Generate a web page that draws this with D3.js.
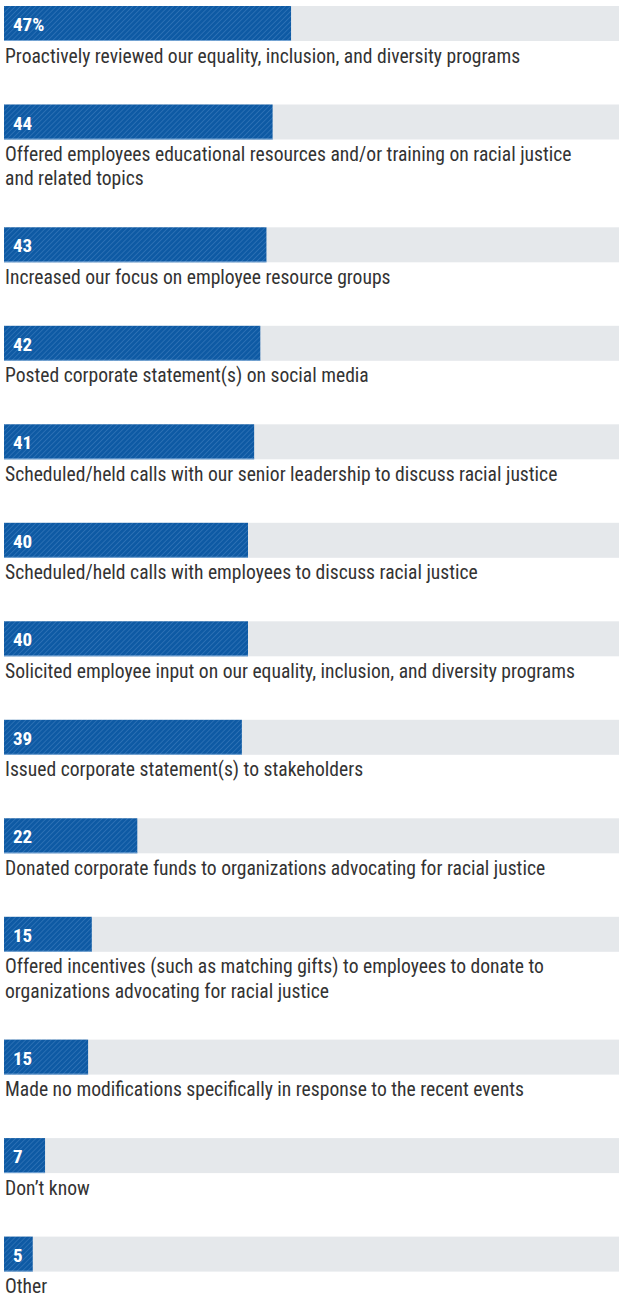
<!DOCTYPE html>
<html>
<head>
<meta charset="utf-8">
<script src="https://cdn.jsdelivr.net/npm/d3@7"></script>
<style>
  html, body { margin: 0; padding: 0; background: #fff; }
  svg { display: block; }
  .cat { font-family: "Liberation Sans Narrow", "Roboto Condensed", "DejaVu Sans Condensed", "Liberation Sans", sans-serif; font-size: 19.6px; fill: #333; }
  .val { font-family: "Liberation Sans Narrow", "Roboto Condensed", "Liberation Sans", sans-serif; font-size: 19px; font-weight: bold; fill: #fff; }
</style>
</head>
<body>
<script>
const categories = [
  "Proactively reviewed our equality, inclusion, and diversity programs",
  "Offered employees educational resources and/or training on racial justice and related topics",
  "Increased our focus on employee resource groups",
  "Posted corporate statement(s) on social media",
  "Scheduled/held calls with our senior leadership to discuss racial justice",
  "Scheduled/held calls with employees to discuss racial justice",
  "Solicited employee input on our equality, inclusion, and diversity programs",
  "Issued corporate statement(s) to stakeholders",
  "Donated corporate funds to organizations advocating for racial justice",
  "Offered incentives (such as matching gifts) to employees to donate to organizations advocating for racial justice",
  "Made no modifications specifically in response to the recent events",
  "Don\u2019t know",
  "Other"
];
const values = [47, 44, 43, 42, 41, 40, 40, 39, 22, 14.6, 14.0, 7, 5];
const valueLabels = ["47%", "44", "43", "42", "41", "40", "40", "39", "22", "15", "15", "7", "5"];

const W = 619, H = 1297;
const left = 4;
const x = d3.scaleLinear().domain([0, 100]).range([2, 617]);

const svg = d3.select("body").append("svg").attr("width", W).attr("height", H);

const defs = svg.append("defs");
const pat = defs.append("pattern")
  .attr("id", "hatch")
  .attr("patternUnits", "userSpaceOnUse")
  .attr("width", 3.6).attr("height", 3.6)
  .attr("patternTransform", "rotate(45)");
pat.append("rect").attr("width", 3.6).attr("height", 3.6).attr("fill", "#0e5aa4");
pat.append("line").attr("x1", 0).attr("y1", 0).attr("x2", 0).attr("y2", 3.6)
  .attr("stroke", "#5a92cd").attr("stroke-width", 0.7);

const barH = 35;
const rowStep = 98.5;
const lineH = 24.3;
const maxTextW = 590;

function wrapLines(text) {
  const tmp = svg.append("text").attr("class", "cat");
  const words = text.split(" ");
  const lines = [];
  let cur = [];
  for (const w of words) {
    cur.push(w);
    tmp.text(cur.join(" "));
    if (tmp.node().getComputedTextLength() > maxTextW && cur.length > 1) {
      cur.pop();
      lines.push(cur.join(" "));
      cur = [w];
    }
  }
  lines.push(cur.join(" "));
  tmp.remove();
  return lines;
}

const rows = categories.map((c, i) => ({ cat: c, value: values[i], label: valueLabels[i], lines: wrapLines(c) }));
let y = 6;
rows.forEach(r => { r.y = y; y += rowStep + (r.lines.length - 1) * lineH; });

const g = svg.selectAll("g.row").data(rows).join("g").attr("class", "row")
  .attr("transform", d => `translate(0,${d.y})`);

g.append("rect").attr("x", left).attr("y", 0)
  .attr("width", W - left).attr("height", barH).attr("fill", "#e5e8eb");

g.append("rect").attr("x", left).attr("y", 0)
  .attr("width", d => x(d.value) - left).attr("height", barH)
  .attr("fill", "url(#hatch)");

g.append("rect").attr("x", left).attr("y", barH - 1)
  .attr("width", d => x(d.value) - left).attr("height", 1)
  .attr("fill", "#9cc0e6").attr("opacity", 0.7);

g.append("text").attr("class", "val")
  .attr("x", 13).attr("y", 25)
  .text(d => d.label);

const t = g.append("text").attr("class", "cat").attr("x", 5).attr("y", 56.5);
t.selectAll("tspan").data(d => d.lines).join("tspan")
  .attr("x", 5).attr("dy", (d, i) => i === 0 ? 0 : lineH)
  .text(d => d);
</script>
</body>
</html>
